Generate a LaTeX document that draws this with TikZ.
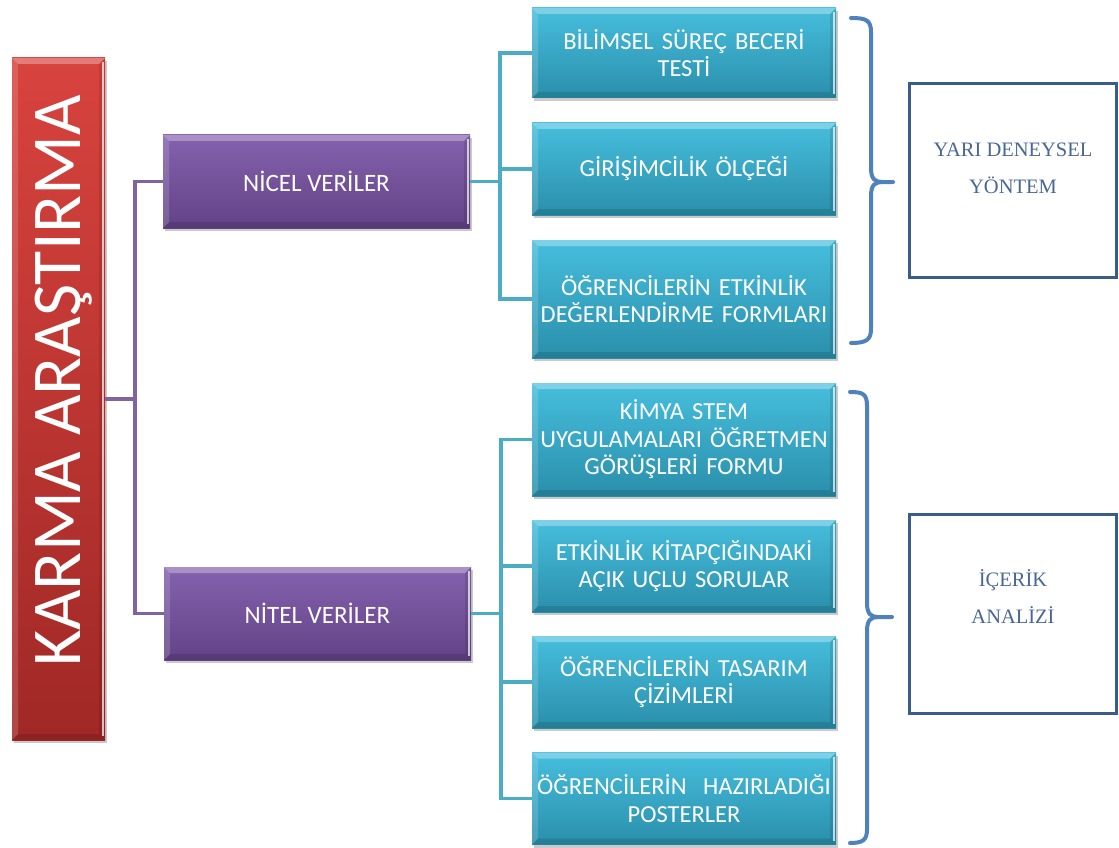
\documentclass[tikz,border=0pt]{standalone}
\usepackage{fontspec}
\setmainfont{Carlito}
\newfontfamily\methodfont{Liberation Serif}
\usetikzlibrary{shadows}

\definecolor{redtop}{HTML}{D8433E}
\definecolor{redbot}{HTML}{A02826}
\definecolor{purtop}{HTML}{8462AE}
\definecolor{purbot}{HTML}{634387}
\definecolor{teatop}{HTML}{46BEDD}
\definecolor{teabot}{HTML}{2A8FAB}
\definecolor{purline}{HTML}{8064A2}
\definecolor{tealine}{HTML}{4BACC6}
\definecolor{bracec}{HTML}{4F81BD}
\definecolor{methodc}{HTML}{385D8A}
\definecolor{methodt}{HTML}{4A6794}

\tikzset{
  bevel/.style={path picture={
    \fill[white,opacity=.30] (path picture bounding box.north west) -- (path picture bounding box.north east)
      -- ([shift={(-6pt,-6pt)}]path picture bounding box.north east) -- ([shift={(6pt,-6pt)}]path picture bounding box.north west) -- cycle;
    \fill[white,opacity=.15] (path picture bounding box.north west) -- ([shift={(6pt,-6pt)}]path picture bounding box.north west)
      -- ([shift={(6pt,6pt)}]path picture bounding box.south west) -- (path picture bounding box.south west) -- cycle;
    \fill[black,opacity=.12] (path picture bounding box.south west) -- (path picture bounding box.south east)
      -- ([shift={(-6pt,6pt)}]path picture bounding box.south east) -- ([shift={(6pt,6pt)}]path picture bounding box.south west) -- cycle;
    \fill[black,opacity=.10] (path picture bounding box.north east) -- ([shift={(-6pt,-6pt)}]path picture bounding box.north east)
      -- ([shift={(-6pt,6pt)}]path picture bounding box.south east) -- (path picture bounding box.south east) -- cycle;
    \draw[white,opacity=.7,line width=1.2pt] ([shift={(-2pt,-4pt)}]path picture bounding box.north east) -- ([shift={(-2pt,4pt)}]path picture bounding box.south east);
  }},
  boxshadow/.style={drop shadow={shadow xshift=2pt,shadow yshift=-3pt,opacity=.35,fill=black!60}},
  rootbox/.style={top color=redtop,bottom color=redbot,minimum width=93pt,minimum height=682pt,inner sep=0pt,boxshadow,bevel},
  groupbox/.style={top color=purtop,bottom color=purbot,minimum width=307pt,minimum height=93pt,inner sep=0pt,
    text=white,font=\fontsize{25}{28}\selectfont,boxshadow,bevel},
  leafbox/.style={top color=teatop,bottom color=teabot,minimum width=304pt,text width=300pt,align=center,inner sep=0pt,
    text=white,font=\fontsize{24.5}{27.5}\selectfont,boxshadow,bevel},
  purpleline/.style={draw=purline,line width=3.5pt},
  tealline/.style={draw=tealine,line width=3.5pt},
  bracestyle/.style={draw=bracec,line width=4pt,line cap=round,line join=round},
  methodbox/.style={draw=methodc,line width=3pt,fill=white},
  methodtext/.style={text=methodt,align=center,font=\methodfont\fontsize{20.5}{37}\selectfont,inner sep=0pt}
}

\begin{document}
\begin{tikzpicture}[x=1pt,y=-1pt]
\useasboundingbox (0,0) rectangle (1119,848);

% root
\node[rootbox] (root) at (58.5,399) {};
\node[rotate=90,anchor=base,text=white,font=\fontsize{70}{80}\selectfont,inner sep=0pt] (roottext) at (80,381) {KARMA ARAŞTIRMA};

% data groups
\node[groupbox] (nicel) at (316.5,181.5) {NİCEL VERİLER};
\node[groupbox] (nitel) at (317.5,613.5) {NİTEL VERİLER};

% instruments
\node[leafbox,minimum height=90pt]  (t1) at (684,53)    {BİLİMSEL SÜREÇ BECERİ\\TESTİ};
\node[leafbox,minimum height=92pt]  (t2) at (684,169)   {GİRİŞİMCİLİK ÖLÇEĞİ};
\node[leafbox,minimum height=118pt] (t3) at (684,299)   {ÖĞRENCİLERİN ETKİNLİK\\DEĞERLENDİRME FORMLARI};
\node[leafbox,minimum height=113pt] (t4) at (684,439.5) {KİMYA STEM\\UYGULAMALARI ÖĞRETMEN\\GÖRÜŞLERİ FORMU};
\node[leafbox,minimum height=92pt]  (t5) at (684,566)   {ETKİNLİK KİTAPÇIĞINDAKİ\\AÇIK UÇLU SORULAR};
\node[leafbox,minimum height=92pt]  (t6) at (684,682)   {ÖĞRENCİLERİN TASARIM\\ÇİZİMLERİ};
\node[leafbox,minimum height=92pt]  (t7) at (684,798.5) {ÖĞRENCİLERİN\ \ HAZIRLADIĞI\\POSTERLER};

% connectors
\draw[purpleline] (root.east) -- ++(30,0) |- (nicel.west);
\draw[purpleline] (root.east) -- ++(30,0) |- (nitel.west);
\draw[tealline] (nicel.east) -- ++(30,0) |- (t1.west);
\draw[tealline] (nicel.east) -- ++(30,0) |- (t2.west);
\draw[tealline] (nicel.east) -- ++(30,0) |- (t3.west);
\draw[tealline] (nitel.east) -- ++(30,0) |- (t4.west);
\draw[tealline] (nitel.east) -- ++(30,0) |- (t5.west);
\draw[tealline] (nitel.east) -- ++(30,0) |- (t6.west);
\draw[tealline] (nitel.east) -- ++(30,0) |- (t7.west);

% braces
\draw[bracestyle] (851,18) .. controls (866,18) and (871,20) .. (871,32) -- (871,168)
  .. controls (871,179) and (875,182) .. (882,182) -- (893,182);
\draw[bracestyle] (882,182) .. controls (875,182) and (871,185) .. (871,196) -- (871,329)
  .. controls (871,340) and (866,343) .. (851,343);
\draw[bracestyle] (850,392) .. controls (863,392) and (867,394) .. (867,406) -- (867,603)
  .. controls (867,614) and (871,617) .. (878,617) -- (892,617);
\draw[bracestyle] (878,617) .. controls (871,617) and (867,620) .. (867,631) -- (867,829)
  .. controls (867,840) and (863,843) .. (850,843);

% methods
\node[methodbox,minimum width=207pt,minimum height=193pt] (m1) at (1012.5,180.5) {};
\node[methodtext] (m1t) at (1013,168) {YARI DENEYSEL\\YÖNTEM};
\node[methodbox,minimum width=207pt,minimum height=199pt] (m2) at (1012.5,613.5) {};
\node[methodtext] (m2t) at (1013,597) {İÇERİK\\ANALİZİ};
\end{tikzpicture}
\end{document}
